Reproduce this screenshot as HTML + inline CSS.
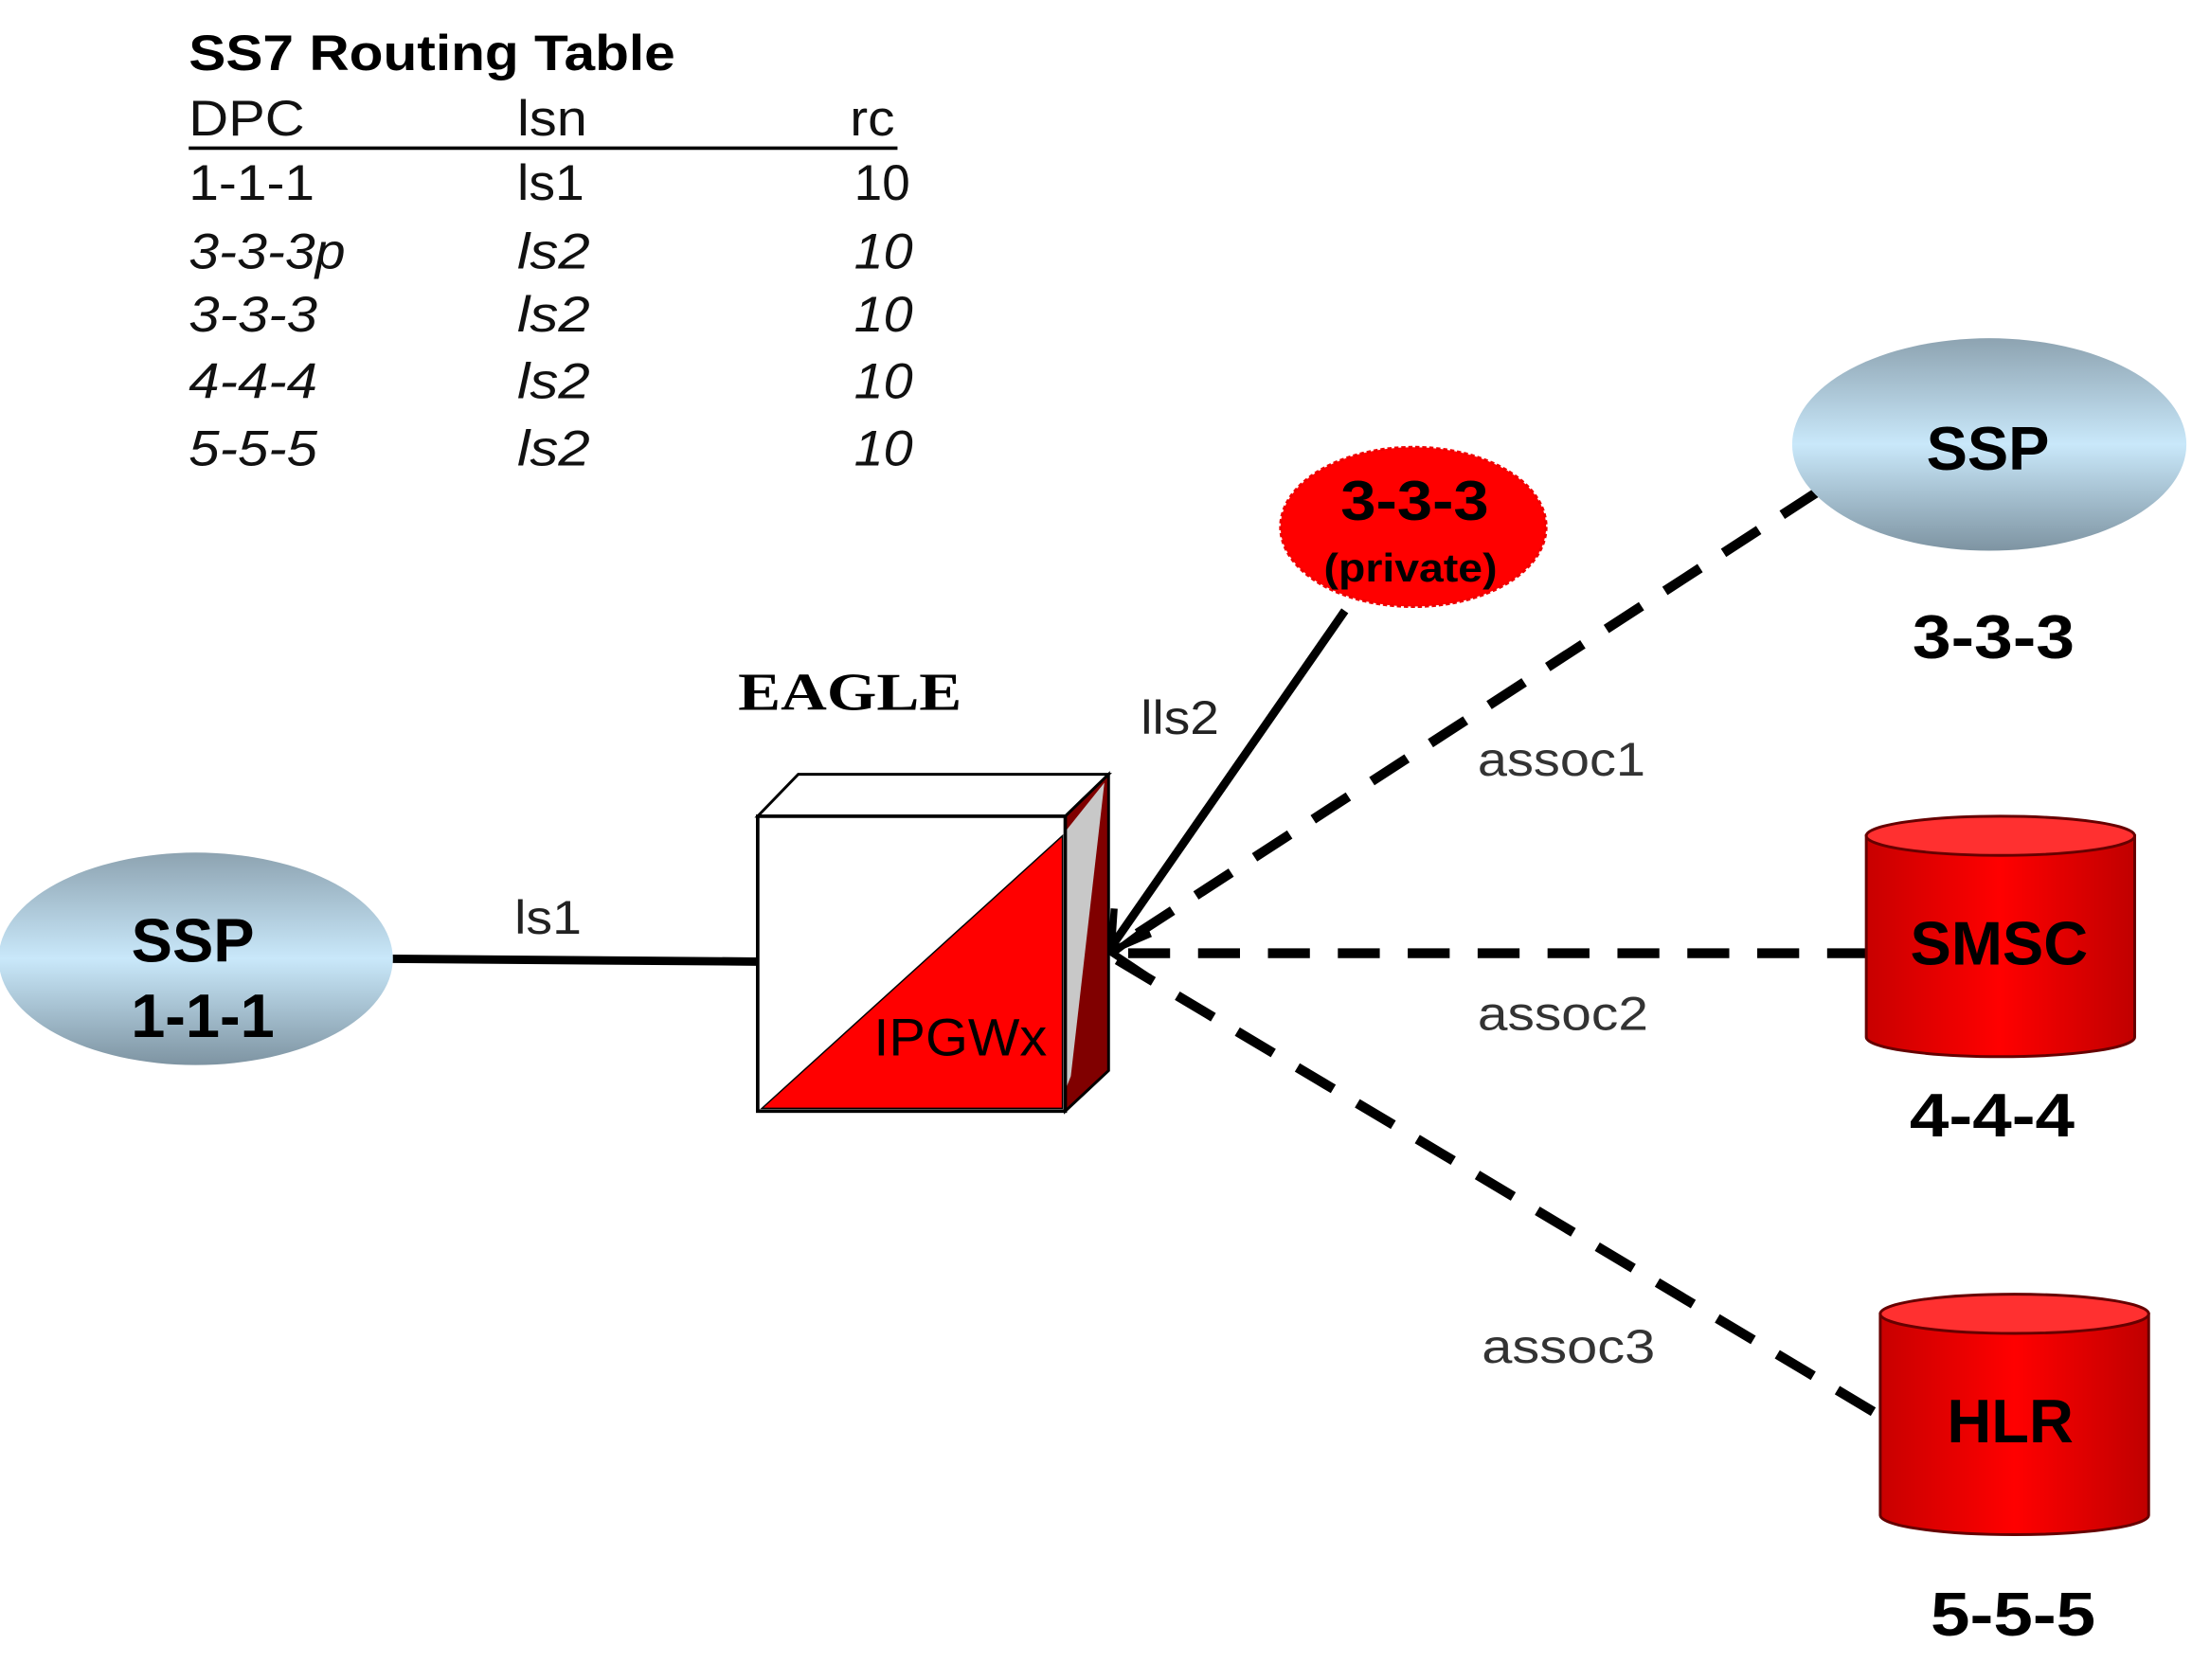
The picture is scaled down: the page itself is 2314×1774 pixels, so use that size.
<!DOCTYPE html>
<html><head><meta charset="utf-8"><style>
html,body{margin:0;padding:0;background:#fff;width:2314px;height:1774px;overflow:hidden}
svg{display:block}
</style></head><body>
<svg width="2314" height="1774" viewBox="0 0 1568 1202" preserveAspectRatio="none" xmlns="http://www.w3.org/2000/svg" font-family="Liberation Sans, sans-serif">
<defs>
<linearGradient id="blue" x1="0" y1="0" x2="0" y2="1">
<stop offset="0" stop-color="#8da3b1"/><stop offset="0.5" stop-color="#c9e8fa"/><stop offset="1" stop-color="#7e94a2"/>
</linearGradient>
<linearGradient id="cyl" x1="0" y1="0" x2="1" y2="0">
<stop offset="0" stop-color="#c80000"/><stop offset="0.5" stop-color="#ff0000"/><stop offset="1" stop-color="#c00000"/>
</linearGradient>
</defs>
<!-- table -->
<text x="135" y="50" font-size="36" font-weight="bold" textLength="348" lengthAdjust="spacingAndGlyphs">SS7 Routing Table</text>
<g font-size="36" fill="#111">
<text x="135" y="97" textLength="83" lengthAdjust="spacingAndGlyphs">DPC</text>
<text x="370" y="97" textLength="50" lengthAdjust="spacingAndGlyphs">lsn</text>
<text x="608" y="97" textLength="32" lengthAdjust="spacingAndGlyphs">rc</text>
<text x="135" y="143" textLength="90" lengthAdjust="spacingAndGlyphs">1-1-1</text>
<text x="370" y="143" textLength="48" lengthAdjust="spacingAndGlyphs">ls1</text>
<text x="611" y="143" textLength="40" lengthAdjust="spacingAndGlyphs">10</text>
<g font-style="italic">
<text x="135" y="192" textLength="112" lengthAdjust="spacingAndGlyphs">3-3-3p</text>
<text x="370" y="192" textLength="52" lengthAdjust="spacingAndGlyphs">ls2</text>
<text x="611" y="192" textLength="42" lengthAdjust="spacingAndGlyphs">10</text>
<text x="135" y="237" textLength="92" lengthAdjust="spacingAndGlyphs">3-3-3</text>
<text x="370" y="237" textLength="52" lengthAdjust="spacingAndGlyphs">ls2</text>
<text x="611" y="237" textLength="42" lengthAdjust="spacingAndGlyphs">10</text>
<text x="135" y="285" textLength="92" lengthAdjust="spacingAndGlyphs">4-4-4</text>
<text x="370" y="285" textLength="52" lengthAdjust="spacingAndGlyphs">ls2</text>
<text x="611" y="285" textLength="42" lengthAdjust="spacingAndGlyphs">10</text>
<text x="135" y="333" textLength="92" lengthAdjust="spacingAndGlyphs">5-5-5</text>
<text x="370" y="333" textLength="52" lengthAdjust="spacingAndGlyphs">ls2</text>
<text x="611" y="333" textLength="42" lengthAdjust="spacingAndGlyphs">10</text>
</g></g>
<line x1="135" y1="106" x2="642" y2="106" stroke="#000" stroke-width="2.5"/>

<!-- dashed lines -->
<g stroke="#000" stroke-width="7" stroke-dasharray="30 20" fill="none">
<line x1="1300" y1="352" x2="798" y2="678"/>
<line x1="1337" y1="682" x2="798" y2="682"/>
<line x1="1340" y1="1010" x2="798" y2="686"/>
</g>
<!-- ls2 -->
<line x1="962" y1="437" x2="796" y2="676" stroke="#000" stroke-width="6"/>
<g stroke="#000" stroke-width="5" fill="none">
<polyline points="797,650 795,680 823,668"/>
<polyline points="820,664 796,682 820,698"/>
</g>
<!-- ls1 -->
<line x1="281" y1="686" x2="542" y2="688" stroke="#000" stroke-width="6"/>
<text x="368" y="668" font-size="34" textLength="48" lengthAdjust="spacingAndGlyphs" fill="#222">ls1</text>
<text x="816" y="525" font-size="34" textLength="56" lengthAdjust="spacingAndGlyphs" fill="#222">lls2</text>

<!-- cube -->
<polygon points="542,584 571,554 793,554 762,584" fill="#fff" stroke="#000" stroke-width="2"/>
<polygon points="762,584 793,554 793,766 762,795" fill="#800000" stroke="#000" stroke-width="2"/>
<polygon points="762,595 790,560 766,770 762,780" fill="#c8c8c8"/>
<rect x="542" y="584" width="220" height="211" fill="#fff" stroke="#000" stroke-width="2.5"/>
<polygon points="545,793 760,598 760,793" fill="#ff0000" stroke="#000" stroke-width="1"/>
<text x="625" y="755" font-size="38" fill="#000" textLength="124" lengthAdjust="spacingAndGlyphs">IPGWx</text>
<text x="528" y="508" font-size="38" font-weight="bold" font-family="Liberation Serif, serif" textLength="160" lengthAdjust="spacingAndGlyphs">EAGLE</text>

<!-- SSP left -->
<ellipse cx="140" cy="686" rx="141" ry="76" fill="url(#blue)"/>
<text x="138" y="688" font-size="44" font-weight="bold" text-anchor="middle">SSP</text>
<text x="145" y="742" font-size="44" font-weight="bold" text-anchor="middle">1-1-1</text>

<!-- SSP right -->
<ellipse cx="1423" cy="318" rx="141" ry="76" fill="url(#blue)"/>
<text x="1422" y="336" font-size="44" font-weight="bold" text-anchor="middle">SSP</text>
<text x="1426" y="471" font-size="44" font-weight="bold" text-anchor="middle" textLength="116" lengthAdjust="spacingAndGlyphs">3-3-3</text>

<!-- private -->
<ellipse cx="1011" cy="377" rx="95" ry="57" fill="#ff0000" stroke="#e00" stroke-width="2" stroke-dasharray="3 2"/>
<text x="1012" y="372" font-size="40" font-weight="bold" text-anchor="middle" textLength="106" lengthAdjust="spacingAndGlyphs">3-3-3</text>
<text x="1009" y="416" font-size="28" font-weight="bold" text-anchor="middle" textLength="124" lengthAdjust="spacingAndGlyphs">(private)</text>

<!-- assoc labels -->
<g font-size="34" fill="#333">
<text x="1057" y="555" textLength="120" lengthAdjust="spacingAndGlyphs">assoc1</text>
<text x="1057" y="737" textLength="122" lengthAdjust="spacingAndGlyphs">assoc2</text>
<text x="1060" y="975" textLength="124" lengthAdjust="spacingAndGlyphs">assoc3</text>
</g>

<!-- SMSC cylinder -->
<path d="M1335,598 L1335,742 A96,14 0 0 0 1527,742 L1527,598 Z" fill="url(#cyl)" stroke="#600" stroke-width="2"/>
<ellipse cx="1431" cy="598" rx="96" ry="14" fill="#ff3030" stroke="#600" stroke-width="2"/>
<text x="1430" y="690" font-size="44" font-weight="bold" text-anchor="middle">SMSC</text>
<text x="1425" y="813" font-size="44" font-weight="bold" text-anchor="middle" textLength="118" lengthAdjust="spacingAndGlyphs">4-4-4</text>

<!-- HLR cylinder -->
<path d="M1345,940 L1345,1084 A96,14 0 0 0 1537,1084 L1537,940 Z" fill="url(#cyl)" stroke="#600" stroke-width="2"/>
<ellipse cx="1441" cy="940" rx="96" ry="14" fill="#ff3030" stroke="#600" stroke-width="2"/>
<text x="1438" y="1032" font-size="44" font-weight="bold" text-anchor="middle">HLR</text>
<text x="1440" y="1170" font-size="44" font-weight="bold" text-anchor="middle" textLength="118" lengthAdjust="spacingAndGlyphs">5-5-5</text>
</svg>
</body></html>
